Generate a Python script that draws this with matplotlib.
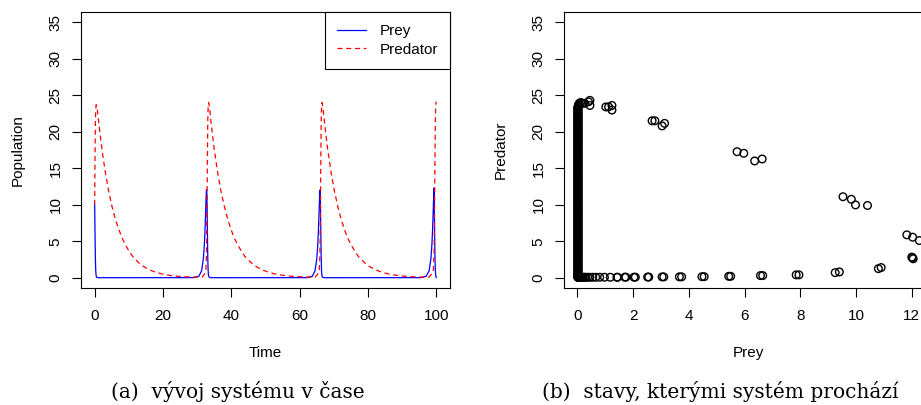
import matplotlib.pyplot as plt

# Lotka-Volterra run, prey spikes roughly every 33 time units
prey_time = [0.0, 0.1, 0.2, 0.3, 0.4, 0.5, 0.7, 1.5,
             29.0, 30.5, 31.3, 31.8, 32.1, 32.3, 32.5, 32.7, 32.8, 32.9, 33.0, 33.1, 33.2, 33.3, 33.5, 34.0,
             62.2, 63.7, 64.5, 65.0, 65.3, 65.5, 65.7, 65.9, 66.0, 66.1, 66.2, 66.3, 66.4, 66.5, 66.7, 67.2,
             95.5, 97.0, 97.9, 98.4, 98.7, 98.9, 99.1, 99.3, 99.4, 99.5, 99.6, 99.7, 99.8, 99.9, 100.0]
prey = [10.0, 6.2, 2.9, 1.1, 0.4, 0.15, 0.03, 0.01,
        0.02, 0.2, 0.97, 2.55, 4.5, 6.6, 9.33, 12.03, 12.05, 9.8, 6.2, 2.9, 1.1, 0.4, 0.08, 0.01,
        0.02, 0.2, 0.97, 2.55, 4.5, 6.6, 9.33, 12.0, 11.9, 9.6, 6.0, 2.8, 1.0, 0.35, 0.07, 0.01,
        0.02, 0.2, 0.97, 2.55, 4.5, 6.6, 9.33, 12.3, 10.1, 6.4, 3.0, 1.1, 0.4, 0.13, 0.04]

predator_time = [0.0, 0.1, 0.2, 0.3, 0.45, 0.7, 1.0, 1.5, 2.0, 2.5, 3.0, 4.0, 5.0, 6.0, 7.0, 8.0, 9.0,
                 10.0, 11.0, 12.0, 13.0, 14.0, 15.0, 16.5, 18.0, 20.0, 22.0, 24.0, 26.0, 28.0, 30.0, 31.5,
                 32.5, 32.7, 32.8, 32.9, 33.0, 33.1, 33.2, 33.35, 33.6, 34.0, 34.5, 35.0, 36.0, 37.0, 38.0,
                 39.0, 40.0, 41.0, 42.0, 43.0, 44.0, 45.5, 47.0, 49.0, 51.0, 53.5, 56.0, 59.0, 62.0, 64.5,
                 65.7, 65.9, 66.0, 66.1, 66.2, 66.3, 66.4, 66.55, 66.8, 67.2, 67.7, 68.2, 69.2, 70.2, 71.2,
                 72.2, 73.2, 74.2, 75.2, 76.2, 77.2, 78.7, 80.2, 82.2, 84.2, 86.7, 89.2, 92.2, 95.2, 97.8,
                 99.1, 99.3, 99.4, 99.5, 99.6, 99.7, 99.8, 99.9, 100.0]
predator = [10.0, 16.3, 20.9, 23.0, 23.7, 23.3, 22.1, 20.0, 18.1, 16.4, 14.8, 12.1, 9.9, 8.1, 6.7, 5.5, 4.5,
            3.7, 3.0, 2.5, 2.0, 1.65, 1.35, 1.0, 0.74, 0.5, 0.33, 0.22, 0.15, 0.11, 0.09, 0.1,
            0.75, 2.7, 5.5, 10.5, 16.6, 21.2, 23.3, 24.0, 23.4, 21.6, 19.5, 17.6, 14.4, 11.8, 9.7,
            7.9, 6.5, 5.3, 4.4, 3.6, 2.9, 2.2, 1.6, 1.1, 0.74, 0.45, 0.28, 0.16, 0.1, 0.08,
            0.75, 2.7, 5.6, 10.6, 16.7, 21.3, 23.4, 24.0, 23.4, 21.6, 19.5, 17.6, 14.4, 11.8, 9.7,
            7.9, 6.5, 5.3, 4.4, 3.6, 2.9, 2.2, 1.6, 1.1, 0.74, 0.45, 0.28, 0.16, 0.1, 0.08,
            0.75, 2.9, 5.1, 10.2, 16.4, 21.1, 23.3, 24.0, 24.1]

# phase plane: states visited while the prey spikes
state_prey = [12.27, 12.03, 11.82,
              9.53, 9.83, 9.98, 10.41,
              5.73, 5.97, 6.36, 6.63,
              2.68, 2.78, 3.04, 3.13,
              1.02, 1.12, 1.24, 1.24,
              0.45, 0.40, 0.45, 0.26, 0.17, 0.12, 0.07, 0.04, 0.025,
              12.0, 12.05, 12.02, 10.8, 10.9, 9.25, 9.4, 7.85, 7.95, 6.57, 6.65, 5.43, 5.5,
              4.47, 4.55, 3.66, 3.74, 3.04, 3.1, 2.52, 2.56, 2.03, 2.08, 1.7, 1.74, 1.42, 1.44,
              1.18, 0.97, 0.8, 0.66, 0.55, 0.45, 0.37, 0.3, 0.25, 0.2, 0.16, 0.13, 0.1, 0.08,
              0.06, 0.04, 0.03, 0.02]
state_predator = [5.1, 5.56, 5.88,
                  11.1, 10.75, 9.98, 9.9,
                  17.27, 17.05, 16.0, 16.27,
                  21.5, 21.5, 20.8, 21.15,
                  23.4, 23.4, 22.97, 23.6,
                  24.3, 24.1, 23.6, 23.9, 23.9, 24.0, 23.9, 23.7, 23.5,
                  2.83, 2.6, 2.75, 1.25, 1.4, 0.7, 0.8, 0.4, 0.4, 0.3, 0.3, 0.2, 0.2,
                  0.15, 0.15, 0.13, 0.13, 0.12, 0.12, 0.1, 0.1, 0.08, 0.08, 0.08, 0.08, 0.07, 0.07,
                  0.07, 0.07, 0.07, 0.07, 0.07, 0.07, 0.07, 0.07, 0.07, 0.07, 0.07, 0.07, 0.07, 0.07,
                  0.07, 0.07, 0.07, 0.07]

# predators dying out while prey sits near zero (two passes through the decay)
column_predator_a = [23.2, 22.9, 22.6, 22.35, 22.0, 21.7, 21.45, 21.1, 20.8, 20.5, 20.25, 19.9, 19.6,
                     19.3, 19.05, 18.7, 18.4, 18.1, 17.85, 17.5, 17.2, 16.9, 16.65, 16.3, 16.0, 15.7,
                     15.45, 15.1, 14.8, 14.5, 14.25, 13.9, 13.6, 13.3, 13.05, 12.7, 12.4, 12.1, 11.85,
                     11.5, 11.2, 10.9, 10.65, 10.3, 10.0, 9.7, 9.45, 9.1, 8.8, 8.5, 8.25, 7.9, 7.6, 7.3,
                     7.05, 6.7, 6.4, 6.1, 5.85, 5.5, 5.2, 4.9, 4.65, 4.3, 4.0, 3.7, 3.45, 3.1, 2.8, 2.5,
                     2.25, 1.9, 1.6, 1.3, 1.05, 0.7, 0.45, 0.25, 0.1]
column_predator_b = [23.35, 23.05, 22.75, 22.45, 22.15, 21.85, 21.55, 21.25, 20.95, 20.65, 20.35, 20.05,
                     19.75, 19.45, 19.15, 18.85, 18.55, 18.25, 17.95, 17.65, 17.35, 17.05, 16.75, 16.45,
                     16.15, 15.85, 15.55, 15.25, 14.95, 14.65, 14.35, 14.05, 13.75, 13.45, 13.15, 12.85,
                     12.55, 12.25, 11.95, 11.65, 11.35, 11.05, 10.75, 10.45, 10.15, 9.85, 9.55, 9.25,
                     8.95, 8.65, 8.35, 8.05, 7.75, 7.45, 7.15, 6.85, 6.55, 6.25, 5.95, 5.65, 5.35, 5.05,
                     4.75, 4.45, 4.15, 3.85, 3.55, 3.25, 2.95, 2.65, 2.35, 2.05, 1.75, 1.45, 1.15, 0.85,
                     0.55, 0.3, 0.15, 0.05]
column_prey_a = 0.01
column_prey_b = 0.03

plt.rcParams["font.family"] = ["Liberation Sans", "DejaVu Sans"]
plt.rcParams["font.size"] = 11

fig = plt.figure(figsize=(9.21, 4.05), dpi=100)
ax1 = fig.add_axes([81 / 921, 117 / 405, 369 / 921, 276 / 405])
ax2 = fig.add_axes([564 / 921, 117 / 405, 369 / 921, 276 / 405])

for ax in (ax1, ax2):
    for sp in ax.spines.values():
        sp.set_linewidth(0.8)
    ax.set_ylim(-1.4, 36.4)
    ax.set_yticks(range(0, 36, 5))
    ax.tick_params(length=6.8, width=0.8, direction="out")
    ax.tick_params(axis="x", pad=8)
    ax.tick_params(axis="y", pad=6.5, labelrotation=90)
    for lab in ax.get_yticklabels():
        lab.set_verticalalignment("center")

# time evolution
ax1.plot(prey_time, prey, color="blue", lw=0.9, label="Prey")
ax1.plot(predator_time, predator, color="red", lw=0.9, ls=(0, (4, 3)), label="Predator")
ax1.set_xlim(-4, 104)
ax1.set_xticks(range(0, 101, 20))
ax1.set_xlabel("Time", labelpad=17)
ax1.set_ylabel("Population", labelpad=17)
leg = ax1.legend(loc="upper right", borderaxespad=0, fancybox=False, framealpha=1,
                 edgecolor="black", handlelength=1.85, handletextpad=0.9, labelspacing=0.3,
                 borderpad=0.8)
leg.get_frame().set_linewidth(0.8)

# phase plane
xs = (state_prey + [column_prey_a] * len(column_predator_a)
      + [column_prey_b] * len(column_predator_b))
ys = state_predator + column_predator_a + column_predator_b
ax2.scatter(xs, ys, s=30, facecolors="none", edgecolors="black", linewidths=1.0)
lo, hi = min(xs), max(xs)
ax2.set_xlim(lo - 0.04 * (hi - lo), hi + 0.04 * (hi - lo))
ax2.set_xticks(range(0, 13, 2))
ax2.set_xlabel("Prey", labelpad=17)
ax2.set_ylabel("Predator", labelpad=17)

cap = dict(family=["DejaVu Serif"], fontsize=14.5, ha="center", va="center")
fig.text(238 / 921, 1 - 392 / 405, "(a)  vývoj systému v čase", **cap)
fig.text(720 / 921, 1 - 392 / 405, "(b)  stavy, kterými systém prochází", **cap)

fig.savefig("out.png", dpi=100)
